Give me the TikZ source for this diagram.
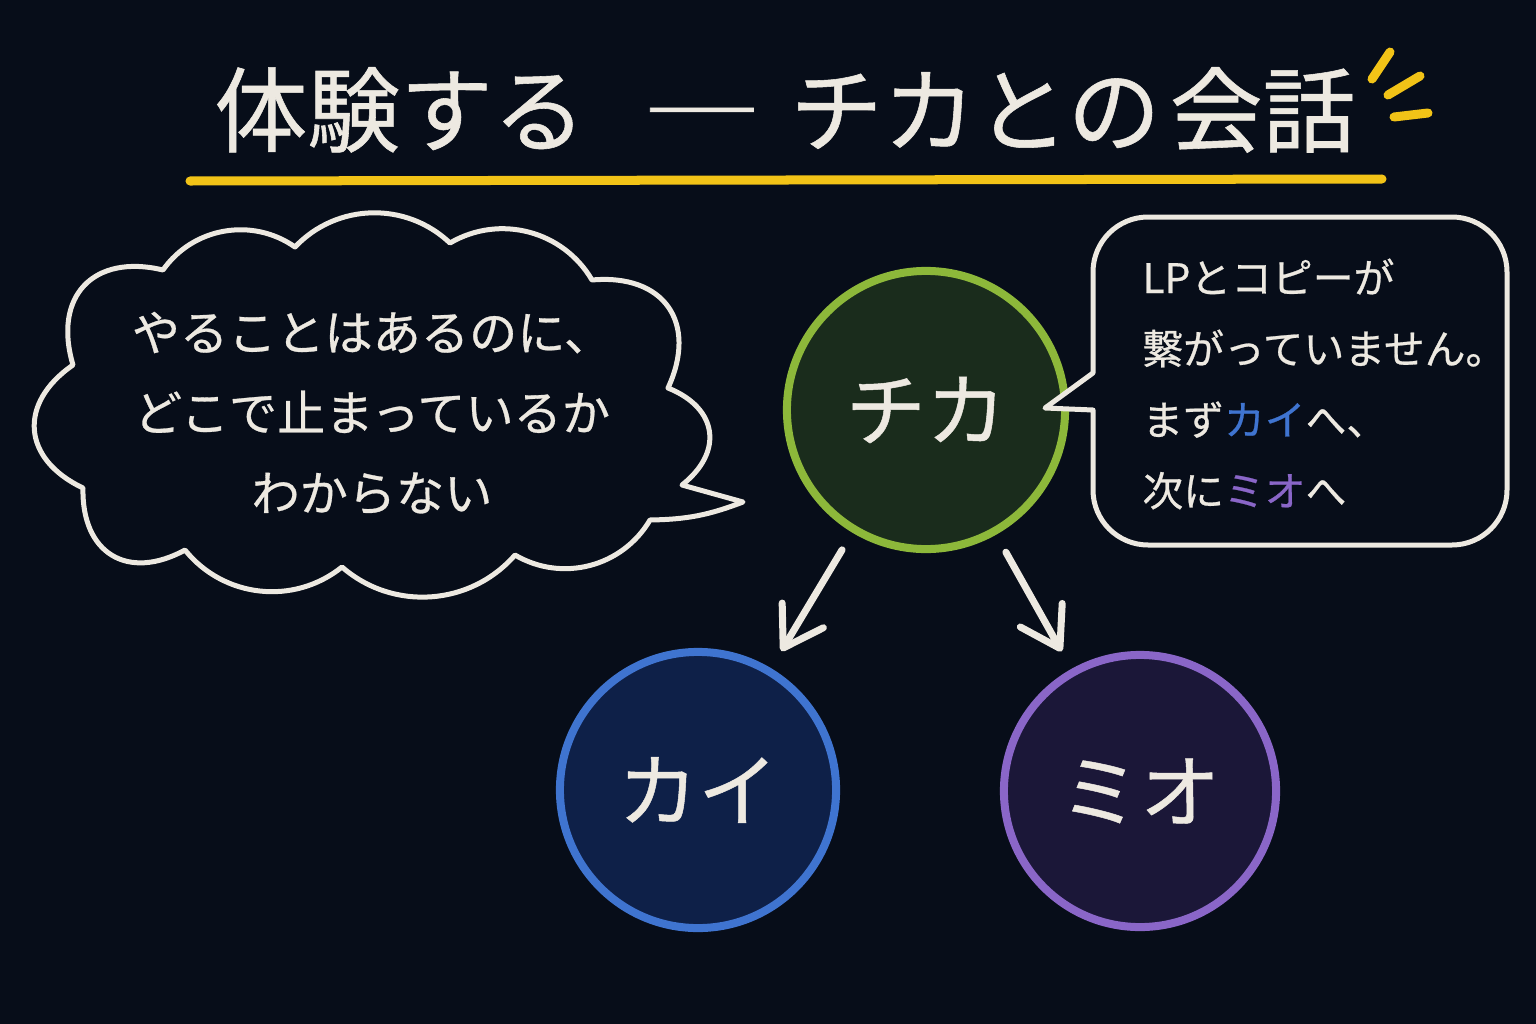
\documentclass[tikz,border=0pt]{standalone}
\usepackage{fontspec}
\setmainfont{Noto Sans CJK JP}[FakeBold=0.6]
\usetikzlibrary{arrows.meta}

\definecolor{board}{HTML}{070D19}
\definecolor{chalkwhite}{HTML}{EDE9E1}
\definecolor{chalkyellow}{HTML}{F2C317}
\definecolor{chikagreen}{HTML}{8DB83A}
\definecolor{chikafill}{HTML}{1A2C1C}
\definecolor{kaiblue}{HTML}{3F74D0}
\definecolor{kaifill}{HTML}{0E2048}
\definecolor{mioviolet}{HTML}{8A66C8}
\definecolor{miofill}{HTML}{1B1738}

\tikzset{
  chalk/.style={draw=chalkwhite, line width=0.05cm, line join=round},
  puff/.style={bend left=45},
  bigpuff/.style={bend left=60, looseness=1.4},
  person/.style={circle, line width=0.08cm, text=chalkwhite,
    font=\fontsize{22.8pt}{24pt}\selectfont},
  flow/.style={draw=chalkwhite, line width=0.07cm, line cap=round,
    -{Straight Barb[length=0.38cm,width=0.48cm,round]},
    shorten <=0.2cm, shorten >=0.2cm},
  spark/.style={draw=chalkyellow, line width=0.09cm, line cap=round}
}

\begin{document}
\begin{tikzpicture}[x=0.01cm, y=-0.01cm]
\fill[board] (0,0) rectangle (1536,1024);

% title
\node[text=chalkwhite, font=\fontsize{26.4pt}{28pt}\selectfont] (title) at (785,110)
  {体験する\hspace{0.6em}\scalebox{1.3}[1]{―}\hspace{0.3em}チカとの\hspace{0.1em}会話};
\draw[chalkyellow, line width=0.09cm, line cap=round] (190,181) -- (1382,179);
\draw[spark] (1390,52) -- (1372,79);
\draw[spark] (1420,76) -- (1388,95);
\draw[spark] (1428,113) -- (1394,117);

% thought cloud
\draw[chalk] (73,365) to[bigpuff] (163,270) to[puff] (295,247) to[puff] (450,243)
  to[puff] (592,280) to[bigpuff] (668,388) to[bigpuff] (682,485) -- (743,502)
  to[bend left=10] (650,520) to[puff] (515,555) to[puff] (342,567) to[puff] (185,550)
  to[bigpuff] (83,488) to[bigpuff] (73,365) -- cycle;
\node[text=chalkwhite, align=center, font=\fontsize{13.7pt}{22.8pt}\selectfont] (worry) at (372,413)
  {やることはあるのに、\\どこで止まっているか\\わからない};

% people
\node[person, draw=chikagreen, fill=chikafill, minimum size=2.78cm] (chika) at (926,410) {チカ};
\node[person, draw=kaiblue, fill=kaifill, minimum size=2.76cm] (kai) at (698,790) {カイ};
\node[person, draw=mioviolet, fill=miofill, minimum size=2.72cm] (mio) at (1140,791) {ミオ};

\draw[flow] (chika) -- (kai);
\draw[flow] (chika) -- (mio);

% speech bubble
\draw[chalk, fill=board] (1045,408) -- (1093,373) [rounded corners=0.55cm] -- (1093,217) -- (1507,217)
  -- (1507,545) -- (1093,545) [sharp corners] -- (1093,410) -- cycle;
\node[text=chalkwhite, anchor=west, align=left, font=\fontsize{11.6pt}{20.2pt}\selectfont] (chikasays) at (1130,384)
  {LPとコピーが\\繋がっていません。\\まず{\color{kaiblue}カイ}へ、\\次に{\color{mioviolet}ミオ}へ};
\end{tikzpicture}
\end{document}
